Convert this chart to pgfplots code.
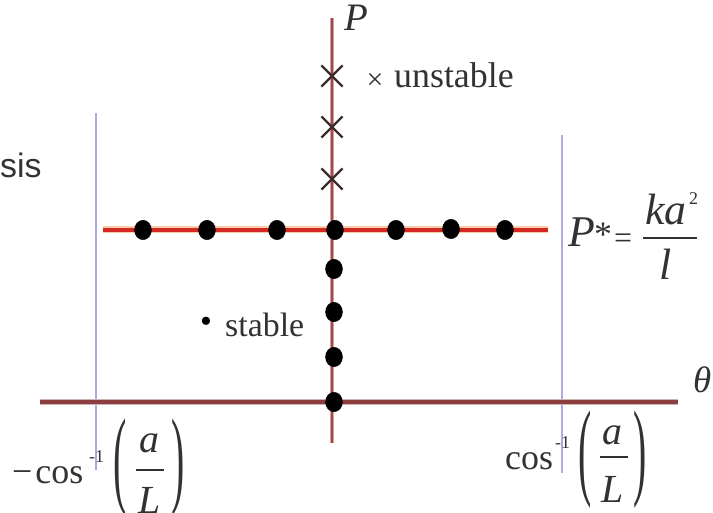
\documentclass[border=0pt]{standalone}
\usepackage{graphicx}
\usepackage{pgfplots}
\pgfplotsset{compat=1.18}
\usepackage{fontspec}
\setmainfont{Liberation Serif}
\setsansfont{Liberation Sans}
\newfontfamily\tms{Liberation Serif}
\newfontfamily\arial{Liberation Sans}

\definecolor{thetaaxis}{RGB}{140,62,62}
\definecolor{paxis}{RGB}{165,70,72}
\definecolor{critline}{RGB}{212,40,36}
\definecolor{critglow}{RGB}{245,170,110}
\definecolor{bound}{RGB}{170,170,232}
\definecolor{txt}{RGB}{50,50,50}
\definecolor{cross}{RGB}{60,45,45}

\newcommand{\fs}[1]{\tms\fontsize{#1}{#1}\selectfont}
\newcommand{\tallparen}[1]{\scalebox{1}[2.7]{\fs{40}#1}}

\begin{document}
\begin{tikzpicture}
\begin{axis}[
  at={(0,0)}, anchor=south west,
  scale only axis, width=713bp, height=513bp,
  xmin=0, xmax=713, ymin=0, ymax=513,
  hide axis, clip=false]

% bounds theta = +/- arccos(a/L)
\addplot[draw=bound, line width=1.2bp] coordinates {(96,400) (96,43)};
\addplot[draw=bound, line width=1.2bp] coordinates {(562,378) (562,40)};

% theta axis
\addplot[draw=thetaaxis!40, line width=6bp] coordinates {(40,111) (678,111)};
\addplot[draw=thetaaxis, line width=3.5bp] coordinates {(40,111) (678,111)};

% P axis
\addplot[draw=paxis!50, line width=3.5bp] coordinates {(332,495) (332,70)};
\addplot[draw=paxis, line width=2bp] coordinates {(332,495) (332,70)};

% critical load P*
\addplot[draw=critglow, opacity=0.6, line width=7bp] coordinates {(103,283) (548,283)};
\addplot[draw=critline, line width=3.5bp] coordinates {(103,283) (548,283)};

% unstable equilibria
\addplot[only marks, mark=x, mark size=15, mark options={draw=cross, line width=2.2bp}]
  coordinates {(332,437) (332,386) (332,334)};

% stable equilibria
\addplot[only marks, mark=*, mark size=8.5, mark options={draw=black, fill=black, yscale=1.15}]
  coordinates {(143,283) (207,283) (277,283) (335,283) (396,283) (451,284) (505,283)
               (334,244) (334,201) (334,156) (334,111)};

% axis names
\node[anchor=base west, text=txt, inner sep=0] at (axis cs:344,482) {\fs{39}\itshape P};
\node[anchor=base west, text=txt, inner sep=0] at (axis cs:693,120) {\fs{37}\itshape θ};
\node[anchor=base west, text=black!80, inner sep=0] at (axis cs:0,335) {\arial\fontsize{34}{34}\selectfont sis};

% legend texts
\node[text=txt, inner sep=0] at (axis cs:375,432) {\fs{30}×};
\node[anchor=base west, text=txt, inner sep=0] at (axis cs:394,425) {\fs{36}unstable};
\node[text=black, inner sep=0] at (axis cs:206,188) {\fs{34}\textbullet};
\node[anchor=base west, text=txt, inner sep=0] at (axis cs:225,176) {\fs{34}stable};

% P* = k a^2 / l
\node[anchor=base west, text=txt, inner sep=0] at (axis cs:568,266) {\fs{44}\itshape P};
\node[anchor=base west, text=txt, inner sep=0] at (axis cs:594,266) {\fs{36}*};
\node[text=txt, inner sep=0] at (axis cs:623,272) {\fs{32}=};
\node[anchor=base west, text=txt, inner sep=0] at (axis cs:645,288) {\fs{44}\itshape ka};
\node[anchor=base west, text=txt, inner sep=0] at (axis cs:689,308) {\fs{18}2};
\node[text=txt, inner sep=0] at (axis cs:670,275) {\rule{54bp}{2bp}};
\node[anchor=base, text=txt, inner sep=0] at (axis cs:666,233) {\fs{44}\itshape l};

% -arccos(a/L)
\node[anchor=base west, text=txt, inner sep=0] at (axis cs:12,30) {\fs{36}−\kern3bp cos};
\node[anchor=west, text=txt, inner sep=0] at (axis cs:89,56) {\fs{18}-1};
\node[text=txt, inner sep=0] at (axis cs:120,45) {\tallparen{(}};
\node[anchor=base, text=txt, inner sep=0] at (axis cs:149,60) {\fs{40}\itshape a};
\node[text=txt, inner sep=0] at (axis cs:150,43) {\rule{28bp}{1.8bp}};
\node[anchor=base, text=txt, inner sep=0] at (axis cs:150,0) {\fs{40}\itshape L};
\node[text=txt, inner sep=0] at (axis cs:178,45) {\tallparen{)}};

% arccos(a/L)
\node[anchor=base west, text=txt, inner sep=0] at (axis cs:505,43) {\fs{36}cos};
\node[anchor=west, text=txt, inner sep=0] at (axis cs:555,70) {\fs{18}-1};
\node[text=txt, inner sep=0] at (axis cs:585,53) {\tallparen{(}};
\node[anchor=base, text=txt, inner sep=0] at (axis cs:612,68) {\fs{40}\itshape a};
\node[text=txt, inner sep=0] at (axis cs:614,56) {\rule{28bp}{1.8bp}};
\node[anchor=base, text=txt, inner sep=0] at (axis cs:613,11) {\fs{40}\itshape L};
\node[text=txt, inner sep=0] at (axis cs:640,53) {\tallparen{)}};
\end{axis}
\pgfresetboundingbox
\useasboundingbox (0,0) rectangle (713bp,513bp);
\end{tikzpicture}
\end{document}
